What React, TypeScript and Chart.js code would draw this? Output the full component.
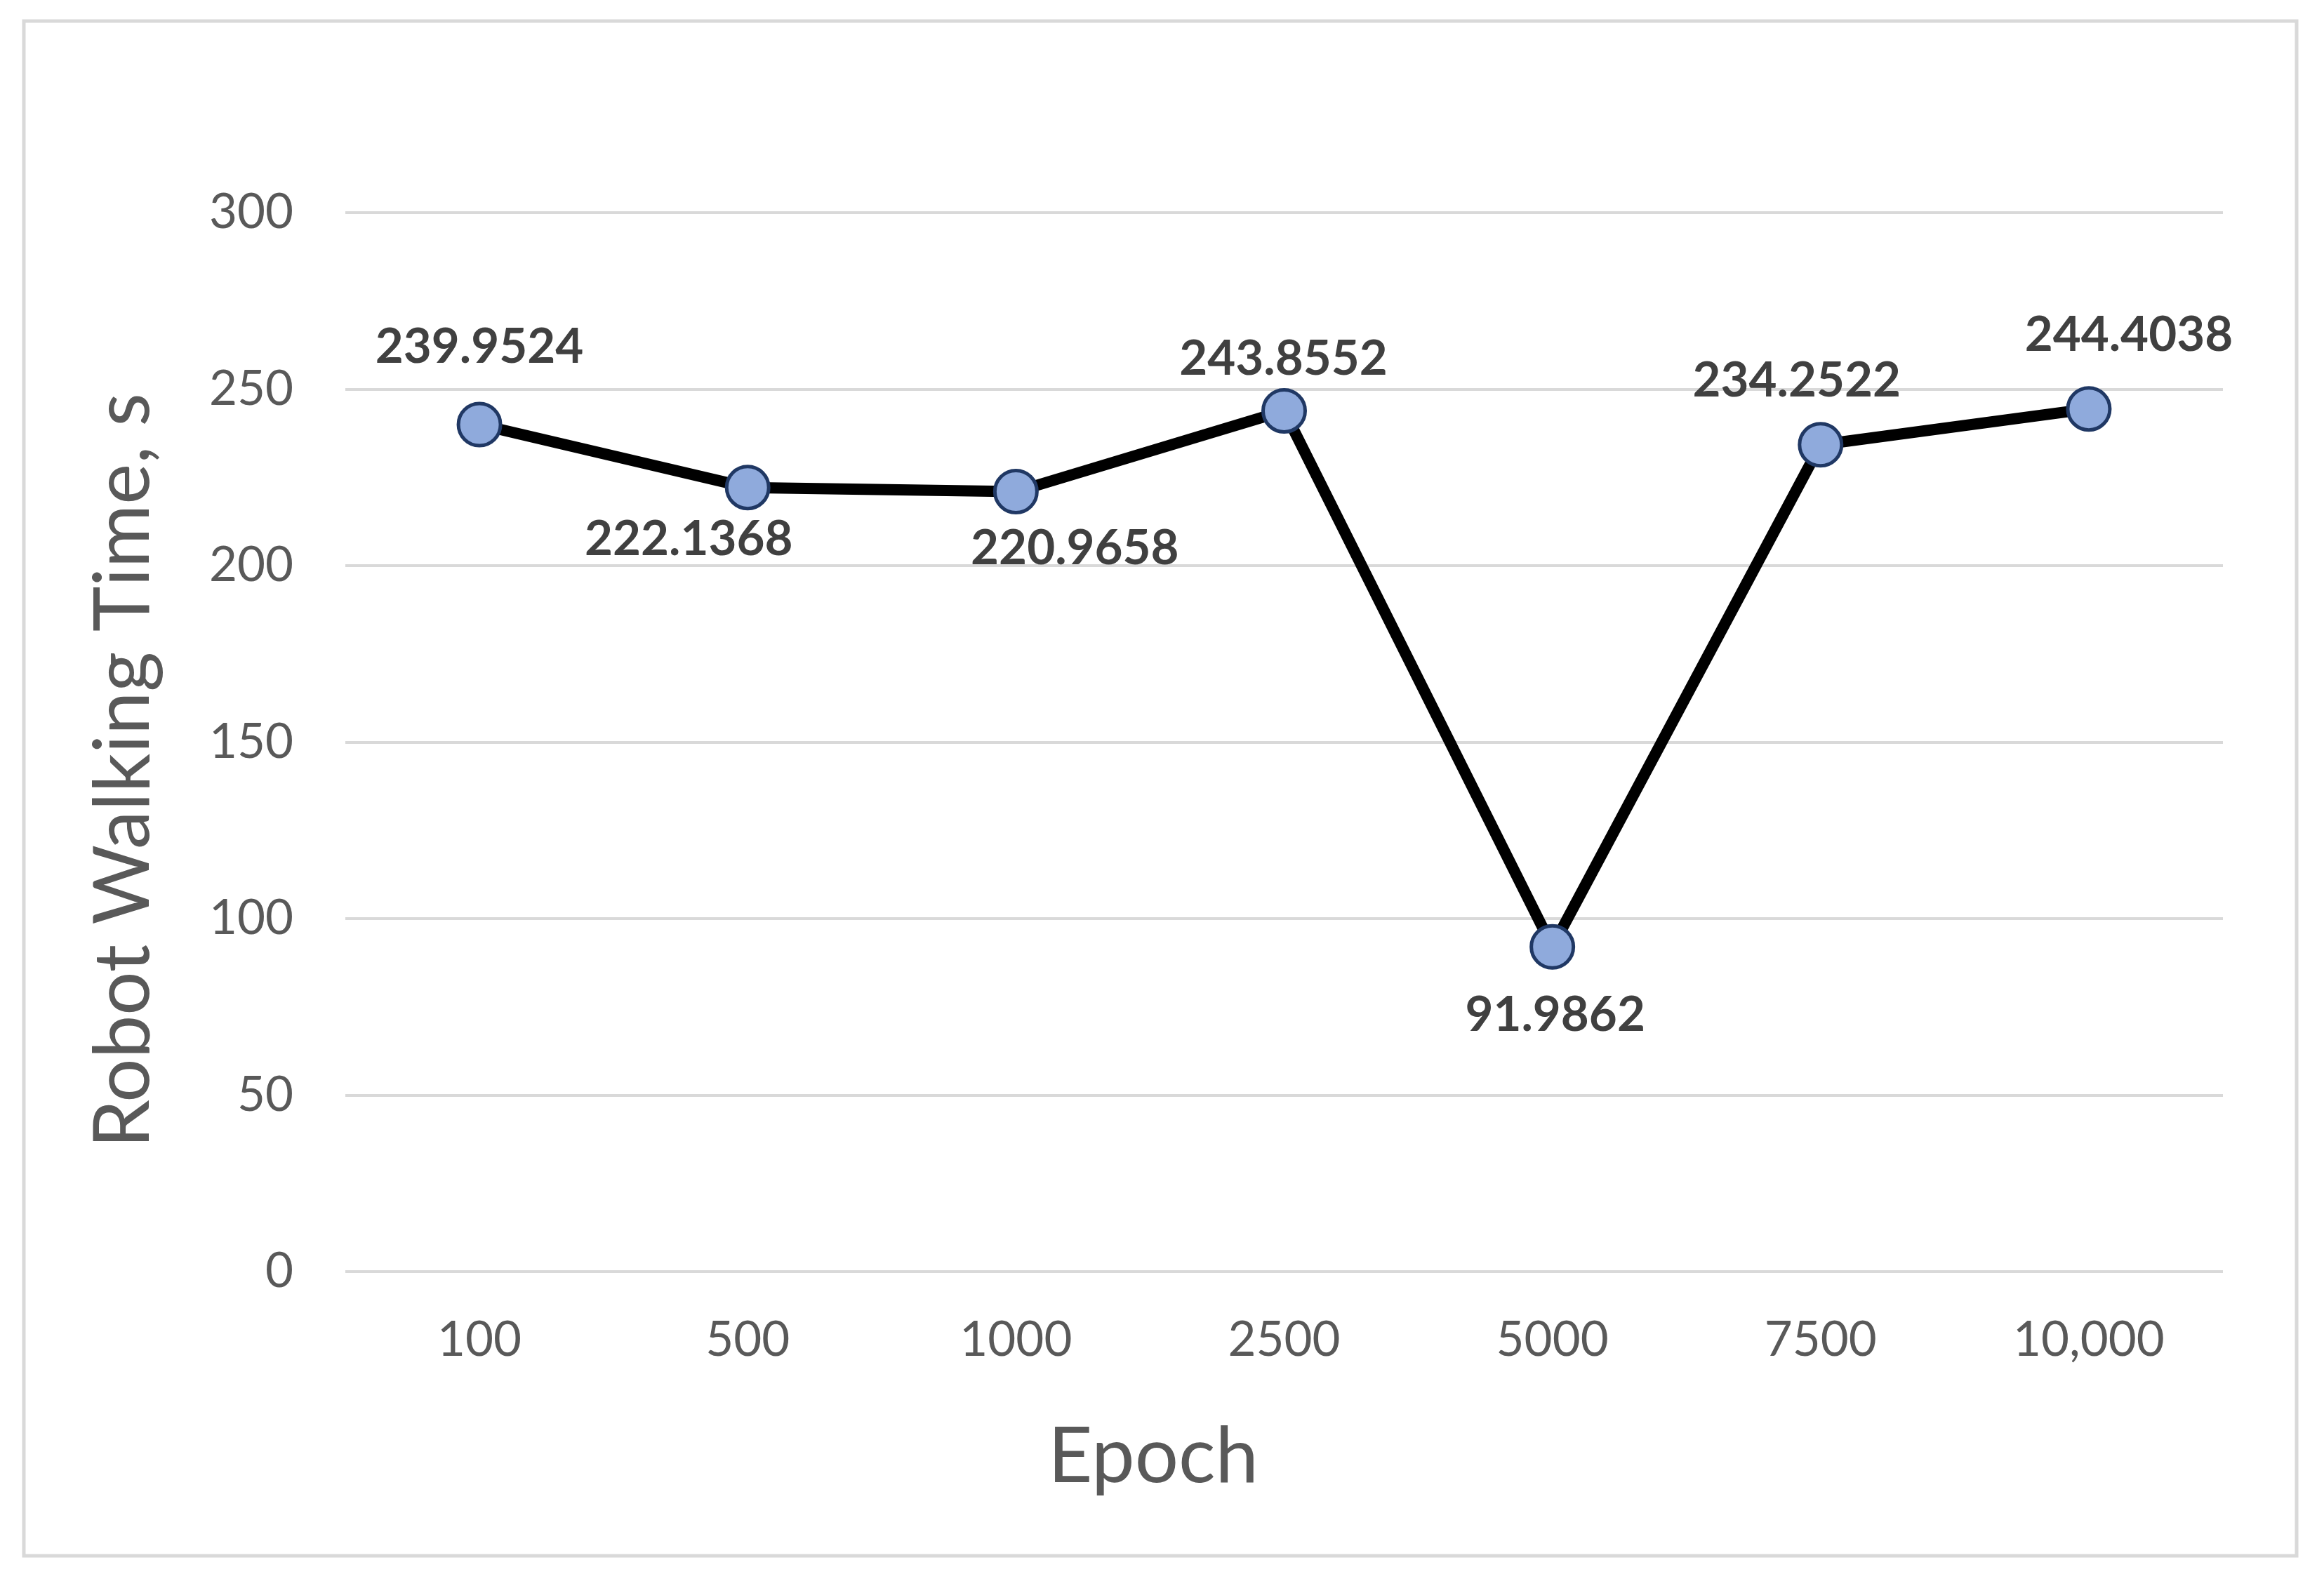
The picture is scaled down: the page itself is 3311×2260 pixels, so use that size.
import React, { useEffect, useRef } from "react";
import { Chart, registerables } from "chart.js";

Chart.register(...registerables);

// ---- data ----
const epochs: string[] = ["100", "500", "1000", "2500", "5000", "7500", "10,000"];
const walkingTime: number[] = [239.9524, 222.1368, 220.9658, 243.8552, 91.9862, 234.2522, 244.4038];
const yTickValues: number[] = [0, 50, 100, 150, 200, 250, 300];
const xAxisTitle = "Epoch";
const yAxisTitle = "Robot Walking Time, s";

// ---- label placement (pixel offsets from each marker, style only) ----
const labelOffsets: [number, number][] = [
  [0, -110],
  [-84, 74],
  [84, 81],
  [-1, -74],
  [4, 97],
  [-34, -91],
  [57, -105],
];

const FONT = "Lato, 'Open Sans', 'Liberation Sans', sans-serif";
const W = 3311;
const H = 2260;

const framePlugin = {
  id: "frame",
  beforeDraw(chart: any) {
    const ctx = chart.ctx;
    ctx.save();
    ctx.fillStyle = "#ffffff";
    ctx.fillRect(0, 0, chart.width, chart.height);
    ctx.strokeStyle = "#D9D9D9";
    ctx.lineWidth = 5;
    ctx.strokeRect(34, 30, 3272 - 34, 2217 - 30);
    ctx.restore();
  },
};

const dataLabelPlugin = {
  id: "dataLabels",
  afterDatasetsDraw(chart: any) {
    const ctx = chart.ctx;
    const meta = chart.getDatasetMeta(0);
    const values = chart.data.datasets[0].data as number[];
    ctx.save();
    ctx.font = `bold 69px ${FONT}`;
    ctx.fillStyle = "#404040";
    ctx.textAlign = "center";
    ctx.textBaseline = "middle";
    meta.data.forEach((pt: any, i: number) => {
      const [dx, dy] = labelOffsets[i] || [0, -100];
      ctx.fillText(String(values[i]), pt.x + dx, pt.y + dy);
    });
    ctx.restore();
  },
};

const axisTitlePlugin = {
  id: "axisTitles",
  afterDraw(chart: any) {
    const ctx = chart.ctx;
    ctx.save();
    ctx.fillStyle = "#595959";
    ctx.font = `110px ${FONT}`;
    ctx.textAlign = "center";
    ctx.textBaseline = "alphabetic";
    ctx.fillText(xAxisTitle, 1643, 2112);
    ctx.translate(212, 1098);
    ctx.rotate(-Math.PI / 2);
    ctx.fillText(yAxisTitle, 0, 0);
    ctx.restore();
  },
};

export default function App() {
  const canvasRef = useRef<HTMLCanvasElement | null>(null);

  useEffect(() => {
    const canvas = canvasRef.current;
    if (!canvas) return;
    const chart = new Chart(canvas, {
      type: "line",
      data: {
        labels: epochs,
        datasets: [
          {
            data: walkingTime,
            borderColor: "#000000",
            borderWidth: 16,
            tension: 0,
            pointRadius: 30,
            pointHoverRadius: 30,
            pointBorderWidth: 5,
            pointBackgroundColor: "#8FAADC",
            pointBorderColor: "#203864",
            clip: false as any,
          },
        ],
      },
      options: {
        responsive: false,
        maintainAspectRatio: false,
        animation: false,
        devicePixelRatio: 1,
        events: [],
        layout: { padding: { left: 0, top: 303, right: 144, bottom: 0 } },
        plugins: {
          legend: { display: false },
          tooltip: { enabled: false },
          title: { display: false },
        },
        scales: {
          x: {
            type: "category",
            offset: true,
            grid: { display: false, drawTicks: false },
            border: { display: false },
            ticks: {
              padding: 56,
              color: "#595959",
              font: { family: FONT, size: 69 },
              maxRotation: 0,
              autoSkip: false,
            },
            afterFit: (s: any) => {
              s.height = H - 1812;
            },
          },
          y: {
            type: "linear",
            min: 0,
            max: 300,
            grid: { color: "#D9D9D9", lineWidth: 4, drawTicks: false },
            border: { display: false },
            ticks: {
              padding: 74,
              color: "#595959",
              font: { family: FONT, size: 69 },
              autoSkip: false,
            },
            afterBuildTicks: (s: any) => {
              s.ticks = yTickValues.map((v) => ({ value: v }));
            },
            afterFit: (s: any) => {
              s.width = 492;
            },
          },
        },
      },
      plugins: [framePlugin, dataLabelPlugin, axisTitlePlugin],
    });
    return () => chart.destroy();
  }, []);

  return (
    <div style={{ position: "fixed", left: 0, top: 0, width: W, height: H, background: "#fff" }}>
      <canvas ref={canvasRef} width={W} height={H} style={{ display: "block", width: W, height: H }} />
    </div>
  );
}
